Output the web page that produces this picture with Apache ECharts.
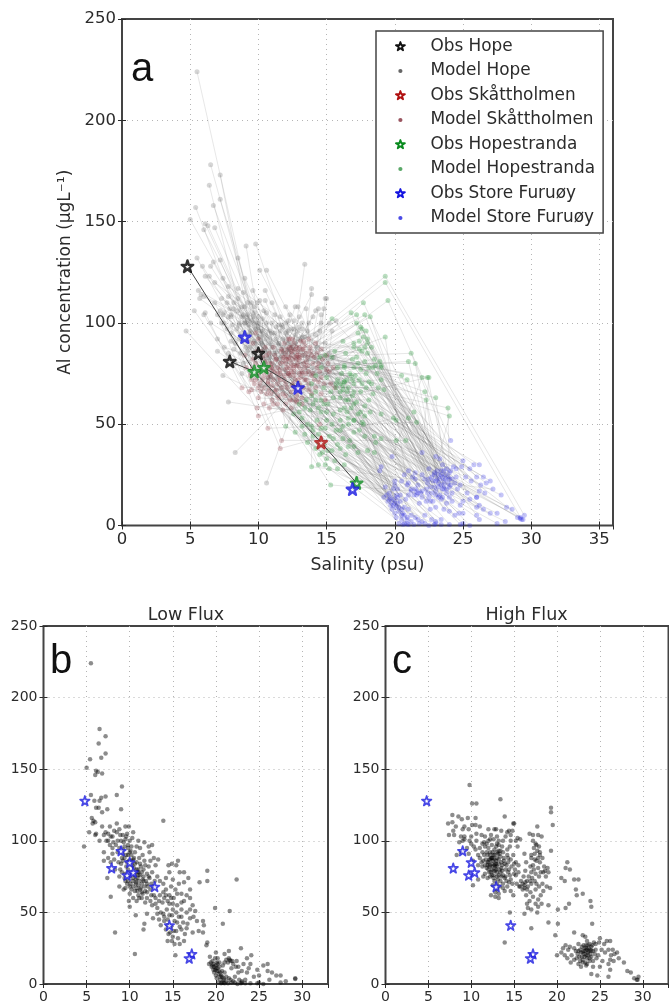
<!DOCTYPE html>
<html>
<head>
<meta charset="utf-8">
<style>
  html, body { margin: 0; padding: 0; background: #fff; }
  #chart { width: 669px; height: 1005px; filter: blur(0.45px); }
</style>
<script src="https://cdn.jsdelivr.net/npm/echarts@6/dist/echarts.min.js"></script>
</head>
<body>
<div id="chart"></div>
<script>
// [salinity, Al], same index = same model time
var lowHope = [[5.5,224],[6.5,178],[7.2,173],[6.4,168],[7.2,161],[6.7,158],[5.4,157],[5,151],[6.1,149],[6.3,148],[6.8,147],[6,146],[9.1,138],[8.5,132],[5.5,132],[7.2,131],[6.7,130],[5.9,128],[6.5,128],[9,122],[6.1,123],[6.4,123],[7.4,122],[6.8,120],[5.6,116],[5.8,114],[6,113],[5.7,112],[13.9,114],[5.3,106],[6.1,105],[6,104],[4.7,96],[7,104],[7.2,106],[7.5,105],[7.7,110],[7.8,103],[8.2,107],[8.5,106],[8.5,112],[8.8,108],[9.5,110],[9.9,110],[9.7,105],[10.4,106],[10.3,102],[9,100],[9.3,99],[9.5,101],[9.4,96],[10.2,96],[7,92],[7.7,97],[8,91],[8.2,87],[7,86],[7.8,85],[8.7,85],[9.4,88],[9.7,85],[10.2,90],[10.4,87],[7.4,74],[8.8,75],[7.8,61],[11.7,99],[12.2,96],[12.6,97],[11.5,90],[8.3,36],[10.6,21],
  [7.5,100],[8,103],[8.6,100],[8.9,104],[9.2,104],[9.6,103],[10,100],[8.4,97],[8.8,95],[9.2,94],[9.8,97],[10.1,93],[8,95],[8.6,92],[9.1,88],[9.8,90],[10.6,92],[7.5,88],[8.3,80],[8.9,80],[9.2,86],[6.8,110],[7.3,100],[8.1,99],[11,100],[10.8,96],[11.2,95],[6.5,100]];
var lowSkat = [[9.8,95],[10,92],[9.6,90],[9.2,91],[10.5,88],[10.8,85],[9.8,80],[10.6,84],[10.8,80],[11,78],[11.2,76],[11.5,73],[10.7,73],[11,69],[10.9,65],[11.4,64],[11.8,65],[12,64],[12.4,66],[12.5,70],[12,77],[12.2,82],[11.7,86],[12.3,92],[12.8,88],[13.3,87],[13,83],[12.6,78],[10,63],[9.5,67],[8.8,68],[9.3,66],[9.9,58],[10,54],[10.7,48],[11.6,38],[11.7,42],[9.1,78],[9.4,74],[9.8,72],[10.1,70],[10.4,68],[10.6,76],[11.3,82],[11.6,80],[11.1,88],[10.3,83],[9.9,86],[9.6,82],[10.2,78],[10.7,71],[11,62],[11.4,60],[11.9,72],[12.1,68],[11.4,70],[11.2,66],[10.9,74],[11.6,75],[12.3,74],[9,84],[9.5,77],[10,75],[12,60],[12.4,58],[11.8,57],[10.4,60],[10.8,58],[10.2,66],[13.2,75],[13.5,72],[12.8,62],
  [10.2,86],[10.5,81],[10.9,78],[11.1,72],[11.4,78],[11.7,68],[11,76],[10.7,70],[10.4,74],[11.3,67],[11.5,63],[12,70],[12.2,75],[12.5,62],[9.7,70],[10,68],[10.6,65],[11,80],[11.2,84],[11.8,83],[12.4,86],[9.5,72],[10.3,72],[11.6,72],[10.8,67],[11.1,60],[12.7,68],[12.9,72]];
var lowStrand = [[13.5,62],[14,60],[14.6,62],[13,60],[12.6,55],[13.2,53],[13.8,57],[14.3,52],[13.2,49],[12.7,46],[12,49],[13.9,70],[14.2,66],[14.4,45],[14.9,84],[14.5,83],[15.6,86],[15.4,83],[15.8,78],[16.3,78],[16.8,74],[16.3,71],[15.7,70],[15,73],[15.3,66],[15.1,60],[16,63],[16.3,58],[17,60],[17,66],[18.1,71],[19,72],[19,79],[22.4,73],[21.6,51],[19.9,53],[20.8,42],[16,52],[16.6,50],[17,52],[17.3,55],[17.6,51],[15.7,47],[14.9,48],[16.2,43],[17,46],[18.5,44],[18.6,41],[16,38],[16.4,35],[15.4,37],[15,33],[14.5,35],[14.4,30],[15.2,28],[15.8,28],[16.3,30],[17.3,36],[18,37],[18.5,36],[15.3,20],[14,44],[13.6,41],[14.2,38],[14.8,40],[15.5,43],[15,52],[14.6,56],[15.5,55],[13.9,64],[14.8,68],[16.7,42],
  [14.2,62],[14.8,60],[15,56],[13.6,50],[14,47],[14.6,48],[15.4,50],[16,47],[13.4,58],[14.4,58],[13,56],[13.4,45],[15.2,44],[15.8,40],[14.7,36],[15.6,32],[14.9,30],[16.6,39],[16,57],[16.6,62],[15.5,63],[14.2,74],[14.6,78],[17.4,47],[17.8,44],[13.9,49],[14.4,41],[15.1,37]];
var lowFuru = [[19,29],[18.9,27],[19.3,19],[20,22],[21,21],[21.5,23],[22.9,25],[21.5,18],[21.9,16],[20.2,18],[19.2,14],[19.5,12],[19.7,14],[20,13],[20.2,11],[20.3,9],[19.8,8],[20,6],[20.7,5],[20.5,3],[20.7,1],[21.2,2],[21.8,1],[22.5,0],[23,2],[23,1],[24,0.5],[24.8,0.5],[25.5,0],[22.3,12],[22.6,8],[23.2,14],[23.6,18],[24.1,20],[24,14],[23.6,8],[24.8,10],[25,6],[25.5,13],[26,14],[26,9],[26.5,8],[27,6],[27.5,6],[27.5,1],[29.2,4],[29.2,3.5],[21,8],[21.8,11],[20.8,13],[19.6,16],[19.9,10],[20.1,15],[20.4,12],[20.6,0.5],[21,0.5],[21.4,0.5],[19.9,18],[20.3,7],[20.5,5],[21.2,17],[21.6,17],[22,14],[22.2,5],[22.7,3],[23.4,3],[23.8,11],[20.1,4],[20.9,3],[22.2,1],[21.5,4],[20.7,9],
  [19.4,15],[19.6,13],[19.8,12],[20,11],[20.1,9],[19.7,10],[20.2,14],[20.4,15],[20.5,8],[20.6,6],[20.9,4],[21.2,5],[20.3,1],[20.9,1],[21.7,3],[22,2],[22.9,0.5],[23.4,0.5],[21.4,15],[21.7,16],[22.4,16],[23,9],[24.4,5],[25,1],[26.2,3],[28.1,2],[22.6,12],[21,15]];

var highHope = [[9.8,139],[13.4,129],[10.1,126],[10.6,126],[7.8,118],[8.5,117],[8.9,115],[9.6,116],[10.5,116],[7.3,112],[7.8,113],[8.2,110],[9.2,110],[10.1,111],[10.5,111],[11,110],[13.9,117],[14.4,107],[14.8,107],[14.9,112],[15,112],[12,108],[12.7,108],[12.3,104],[13,103],[7.4,104],[8.6,99],[9,100],[9.2,103],[9.2,101],[10,103],[10.6,100],[10,98],[8.3,90],[9.7,91],[10.2,69],[10.8,73],[11.5,99],[11.8,98],[11.6,103],[12.9,108],[13.2,100],[14,103],[14.2,106],[8.8,92],[9.5,95],[10.5,94],[10.2,86],[10.8,83],[11,95],[11.3,92],[11.5,90],[11.2,85],[11.6,83],[12,95],[12.4,97],[12.7,94],[13,98],[13.6,96],[14.2,94],[14.6,100],[15.7,101],[14.9,90],[15.2,85],[15.5,83],[14.3,88],[11,88],[11.4,86],[11.8,92],[12.2,90],[12.5,88],[13,92],
  [11.6,96],[12,100],[12.6,101],[13.2,97],[13.7,100],[10.3,96],[10.8,90],[11.3,98],[12.2,101],[9,108],[9.7,108],[8,104],[8.8,103],[13.5,107],[14.6,104],[10.6,105],[11.2,104],[12.9,96],[13.4,93],[14.5,96],[15.2,100],[11.9,85],[12.2,87],[12.7,90],[13.2,93],[9.8,100],[7.9,107],[15.4,96]];
var highSkat = [[12.2,92],[12.6,90],[13,88],[13.4,89],[13.8,88],[14.2,90],[12,85],[12.4,84],[12.8,82],[13.2,84],[13.6,83],[14,80],[12,80],[12.3,78],[12.6,79],[12.9,80],[13.2,76],[13.5,75],[13.9,74],[14.3,78],[14.7,82],[15,84],[11.7,87],[11.4,75],[11.9,74],[12.4,76],[12.7,72],[13,70],[13.3,68],[13,66],[12.8,64],[12.3,62],[12.8,61],[13.2,60],[13.7,70],[14.2,68],[14.6,65],[14.9,62],[14.6,73],[15,77],[15.3,70],[15.6,68],[12.1,82],[12.5,86],[12.9,86],[13.3,80],[13.6,79],[12.7,83],[13,78],[12.4,80],[12.2,83],[12.8,84],[13.5,85],[13.9,84],[14.3,85],[14.6,87],[11.8,81],[11.6,77],[11.3,82],[11.9,90],[12.3,88],[13.1,91],[13.7,92],[14,75],[14.4,71],[15.2,76],[15.5,78],[14.8,70],[13.4,72],[12.6,74],[13.9,65],[14.5,50],
  [12.5,82],[12.8,79],[13,82],[13.2,87],[13.5,81],[13.7,76],[12.4,88],[12.9,84],[12.1,78],[12.2,75],[12.6,76],[13.1,73],[13.4,78],[13.8,86],[14.1,83],[14.4,80],[11.9,83],[12.7,87],[13.3,91],[12.5,92],[12.1,87],[13,75],[13.7,67],[14.1,72],[12.5,69],[13.2,63],[14.5,76],[15.1,80]];
var highStrand = [[16,70],[16.3,71],[15.7,68],[16.2,67],[16.5,72],[17,70],[17.2,104],[17.8,104],[16.8,105],[18.2,103],[17.7,110],[17.5,98],[17.3,95],[17.7,93],[18,90],[18.3,88],[17.4,87],[17.2,83],[17.8,81],[18.5,82],[19,78],[18.7,75],[17.5,77],[17.9,75],[17,78],[16.7,75],[16.3,79],[16.6,68],[16.9,64],[17.2,61],[17.8,59],[18.1,62],[18.2,56],[17.8,54],[19,55],[18.8,68],[19.2,67],[16.5,56],[16.6,53],[17,52],[16.2,49],[17.7,50],[20.1,52],[19.3,123],[19.3,120],[19.5,111],[19.3,93],[21.2,85],[21,81],[21.5,80],[20.5,74],[20.9,72],[22,73],[22.5,73],[22.2,66],[22.3,62],[23,63],[23.9,58],[24,54],[21.4,56],[21,53],[19,43],[20.1,42],[17,39],[18,92],[17.6,86],[18.1,78],[17.4,72],[16.4,62],[17.5,66],[13.9,29],[16.1,75],
  [17.2,100],[17.6,97],[17.9,96],[18,85],[17.4,91],[17,90],[17.8,88],[17.3,80],[18.4,78],[17.1,74],[16.9,72],[16.2,69],[16,66],[15.8,72],[16.5,66],[17.6,70],[18.3,70],[18.6,79],[17,88],[16.4,85],[16.9,82],[15.4,102],[16.2,91],[18.9,81],[17.9,68],[18.4,65],[16.8,58],[17.5,56]];
var highFuru = [[20,20],[20.5,22],[21,27],[21.3,24],[21.7,20],[22,17],[22,25],[22.5,28],[22.5,14],[22.8,12],[23,34],[23.3,33],[23.5,30],[23.8,28],[24,26],[24.2,23],[23.2,25],[23,22],[23.4,20],[23.8,18],[24.2,16],[23,17],[22.6,19],[24.5,24],[24.8,20],[25.5,28],[25.8,30],[26.2,30],[25,32],[26.5,24],[27,22],[26.3,20],[26.2,17],[26,14],[26.2,10],[26,5],[24,7],[24.7,6],[27.8,15],[28.2,9],[28.6,8],[29,4],[29.4,3],[29.5,5],[29.3,3],[24.1,42],[20.9,20],[25.3,16],[23.5,14],[23.1,23],[23.6,22],[23.9,21],[19.8,34],[22,36],[23.5,24],[23.2,19],[23.7,25],[24,19],[22.8,22],[22.4,21],[23.4,27],[24.3,29],[22.2,23],[22.7,16],[23.3,15],[24.6,18],[25.2,24],[21.2,18],[21.6,15],[26.7,21],[27.2,18],[25,12],
  [23.1,27],[23.4,25],[23.7,23],[23.9,24],[24.1,27],[22.9,26],[23.2,21],[23.5,18],[23.8,16],[22.7,24],[22.3,18],[23.6,20],[24.4,21],[24,23],[23.3,23],[23.6,27],[24.5,28],[23,15],[22.9,19],[22.5,23],[25.6,22],[26,24],[26.6,16],[24.9,29],[21.5,26],[20.7,25],[23.4,13],[24.2,12]];

var obsHope = [[4.8,128],[7.9,81],[10,85]];
var obsSkat = [[14.6,41]];
var obsStrand = [[9.7,76],[10.4,78],[17.2,21]];
var obsFuru = [[9,93],[12.9,68],[16.9,18]];
var obsPaths = [
  [[4.8,128],[9.7,76],[14.6,41],[17.2,21],[16.9,18]],
  [[7.9,81],[9.7,76]],
  [[10,85],[10.4,78],[12.9,68]]
];

var legendNames = ['Obs Hope', 'Model Hope', 'Obs Skåttholmen', 'Model Skåttholmen', 'Obs Hopestranda', 'Model Hopestranda', 'Obs Store Furuøy', 'Model Store Furuøy'];

var STAR = 'path://M50 0L61 35L98 35L68 57L79 91L50 70L21 91L32 57L2 35L39 35Z';
// the far corners keep the legend marks small inside their icon box
var DOT = 'path://M0 0M100 100M50 36a14 14 0 1 0 0.01 0z';
var LEGEND_STAR = 'path://M0 0M100 100M50 20L57 41L80 41L61 54L68 75L50 62L32 75L39 54L20 41L43 41Z';
var FONT = '"DejaVu Sans", sans-serif';
var INK = '#2b2b2b';

var allObs = obsHope.concat(obsSkat, obsStrand, obsFuru);
var allLow = lowHope.concat(lowSkat, lowStrand, lowFuru);
var allHigh = highHope.concat(highSkat, highStrand, highFuru);

function joinRows(a, b, c, d) {
  var out = [];
  for (var i = 0; i < a.length; i++) {
    out.push(a[i], b[i], c[i], d[i], ['-', '-']);
  }
  return out;
}

function joinPaths(paths) {
  var out = [];
  paths.forEach(function (p) {
    out = out.concat(p);
    out.push(['-', '-']);
  });
  return out;
}

function gridSplit() {
  return { show: true, showMinLine: false, showMaxLine: false, lineStyle: { color: '#b5b5b5', type: [1, 4], width: 1 } };
}

function makeX(idx, max, fs, margin) {
  return {
    type: 'value', gridIndex: idx, min: 0, max: max, interval: 5,
    axisLine: { show: false },
    axisTick: { inside: true, length: 4, lineStyle: { color: INK } },
    axisLabel: { fontFamily: FONT, fontSize: fs, color: INK, margin: margin, showMaxLabel: false },
    splitLine: gridSplit()
  };
}

function makeY(idx, fs, margin) {
  return {
    type: 'value', gridIndex: idx, min: 0, max: 250, interval: 50,
    axisLine: { show: false },
    axisTick: { inside: true, length: 4, lineStyle: { color: INK } },
    axisLabel: { fontFamily: FONT, fontSize: fs, color: INK, margin: margin },
    splitLine: gridSplit()
  };
}

// tick-only copies for the top and right sides of each frame
function mirrorAxis(base, pos) {
  return Object.assign({}, base, {
    position: pos,
    axisLabel: { show: false },
    splitLine: { show: false },
    name: ''
  });
}

var xMain = [makeX(0, 36, 16.5, 6), makeX(1, 33, 14, 6), makeX(2, 33, 14, 6)];
var yMain = [makeY(0, 16.5, 6), makeY(1, 14, 6), makeY(2, 14, 6)];
xMain[0].name = 'Salinity (psu)';
xMain[0].nameLocation = 'middle';
xMain[0].nameGap = 32;
xMain[0].nameTextStyle = { fontFamily: FONT, fontSize: 17.3, color: INK };
yMain[0].name = 'Al concentration (μgL⁻¹)';
yMain[0].nameLocation = 'middle';
yMain[0].nameGap = 39;
yMain[0].nameTextStyle = { fontFamily: FONT, fontSize: 17, color: INK };

function modelSeries(name, data, color, alpha) {
  return {
    name: name, type: 'scatter', xAxisIndex: 0, yAxisIndex: 0, data: data,
    symbolSize: 5, z: 3, silent: true,
    itemStyle: { color: color, opacity: alpha }
  };
}

function obsSeries(name, data, color) {
  return {
    name: name, type: 'scatter', xAxisIndex: 0, yAxisIndex: 0, data: data,
    symbol: STAR, symbolSize: 11.5, z: 6, silent: true,
    itemStyle: { color: '#fff', borderColor: color, borderWidth: 2.4, borderJoin: 'round' }
  };
}

function fluxSeries(idx, name, data, obs) {
  return [{
    name: name, type: 'scatter', xAxisIndex: idx, yAxisIndex: idx, data: data,
    symbolSize: 4.5, silent: true,
    itemStyle: { color: '#000', opacity: 0.45 }
  }, {
    name: name + ' obs', type: 'scatter', xAxisIndex: idx, yAxisIndex: idx, data: obs,
    symbol: STAR, symbolSize: 9.5, z: 5, silent: true,
    itemStyle: { color: '#fff', borderColor: '#1a1ae0', borderWidth: 1.7, borderJoin: 'round' }
  }];
}

var lineData = joinRows(lowHope, lowSkat, lowStrand, lowFuru).concat(joinRows(highHope, highSkat, highStrand, highFuru));

var legendColors = ['#111', '#666', '#b01010', '#9a5560', '#0a8a1e', '#5aa868', '#1414e0', '#4a4ae6'];
var legendData = legendNames.map(function (n, i) {
  return {
    name: n,
    icon: i % 2 === 0 ? LEGEND_STAR : DOT,
    itemStyle: i % 2 === 0
      ? { color: '#fff', borderColor: legendColors[i], borderWidth: 1.8, borderJoin: 'round', opacity: 1 }
      : { color: legendColors[i], borderWidth: 0, opacity: 1 }
  };
});

var option = {
  animation: false,
  backgroundColor: '#fff',
  grid: [
    { left: 122, top: 19, width: 491, height: 506.5, show: true, borderColor: '#444', borderWidth: 2, backgroundColor: 'transparent' },
    { left: 43.5, top: 626, width: 284.5, height: 358, show: true, borderColor: '#444', borderWidth: 2, backgroundColor: 'transparent' },
    { left: 385.5, top: 626, width: 283, height: 358, show: true, borderColor: '#444', borderWidth: 2, backgroundColor: 'transparent' }
  ],
  xAxis: xMain.concat(xMain.map(function (a) { return mirrorAxis(a, 'top'); })),
  yAxis: yMain.concat(yMain.map(function (a) { return mirrorAxis(a, 'right'); })),
  title: [
    { text: 'a', left: 126, top: 45, textStyle: { fontFamily: '"Liberation Sans", sans-serif', fontSize: 40, fontWeight: 'normal', color: '#111' } },
    { text: 'b', left: 45, top: 637, textStyle: { fontFamily: '"Liberation Sans", sans-serif', fontSize: 40, fontWeight: 'normal', color: '#111' } },
    { text: 'c', left: 387, top: 637, textStyle: { fontFamily: '"Liberation Sans", sans-serif', fontSize: 40, fontWeight: 'normal', color: '#111' } },
    { text: 'Low Flux', left: 181, textAlign: 'center', top: 601, textStyle: { fontFamily: FONT, fontSize: 17.5, fontWeight: 'normal', color: INK } },
    { text: 'High Flux', left: 521.5, textAlign: 'center', top: 601, textStyle: { fontFamily: FONT, fontSize: 17.5, fontWeight: 'normal', color: INK } }
  ],
  legend: {
    orient: 'vertical', left: 376, top: 31,
    padding: [7, 8, 6.5, 16],
    data: legendData,
    itemWidth: 44, itemHeight: 15, itemGap: 7.5,
    backgroundColor: '#fff', borderColor: '#444', borderWidth: 1.5,
    selectedMode: false,
    textStyle: { fontFamily: FONT, fontSize: 16.9, lineHeight: 15, color: INK, padding: [0, 0, 0, 3] }
  },
  series: [
    {
      name: 'links', type: 'line', xAxisIndex: 0, yAxisIndex: 0, data: lineData,
      showSymbol: false, silent: true, z: 2,
      lineStyle: { color: '#707070', width: 1, opacity: 0.17 }
    },
    {
      name: 'obs links', type: 'line', xAxisIndex: 0, yAxisIndex: 0, data: joinPaths(obsPaths),
      showSymbol: false, silent: true, z: 4,
      lineStyle: { color: '#444', width: 1 }
    },
    modelSeries('Model Hope', lowHope.concat(highHope), '#666666', 0.27),
    modelSeries('Model Skåttholmen', lowSkat.concat(highSkat), '#8e2f3a', 0.27),
    modelSeries('Model Hopestranda', lowStrand.concat(highStrand), '#2f9a3f', 0.33),
    modelSeries('Model Store Furuøy', lowFuru.concat(highFuru), '#2a2ae6', 0.27),
    obsSeries('Obs Hope', obsHope, '#000'),
    obsSeries('Obs Skåttholmen', obsSkat, '#b01010'),
    obsSeries('Obs Hopestranda', obsStrand, '#0a8a1e'),
    obsSeries('Obs Store Furuøy', obsFuru, '#1414e0')
  ].concat(fluxSeries(1, 'Low Flux', allLow, allObs), fluxSeries(2, 'High Flux', allHigh, allObs))
};

var chart = echarts.init(document.getElementById('chart'), null, { renderer: 'canvas' });
chart.setOption(option);
</script>
</body>
</html>
